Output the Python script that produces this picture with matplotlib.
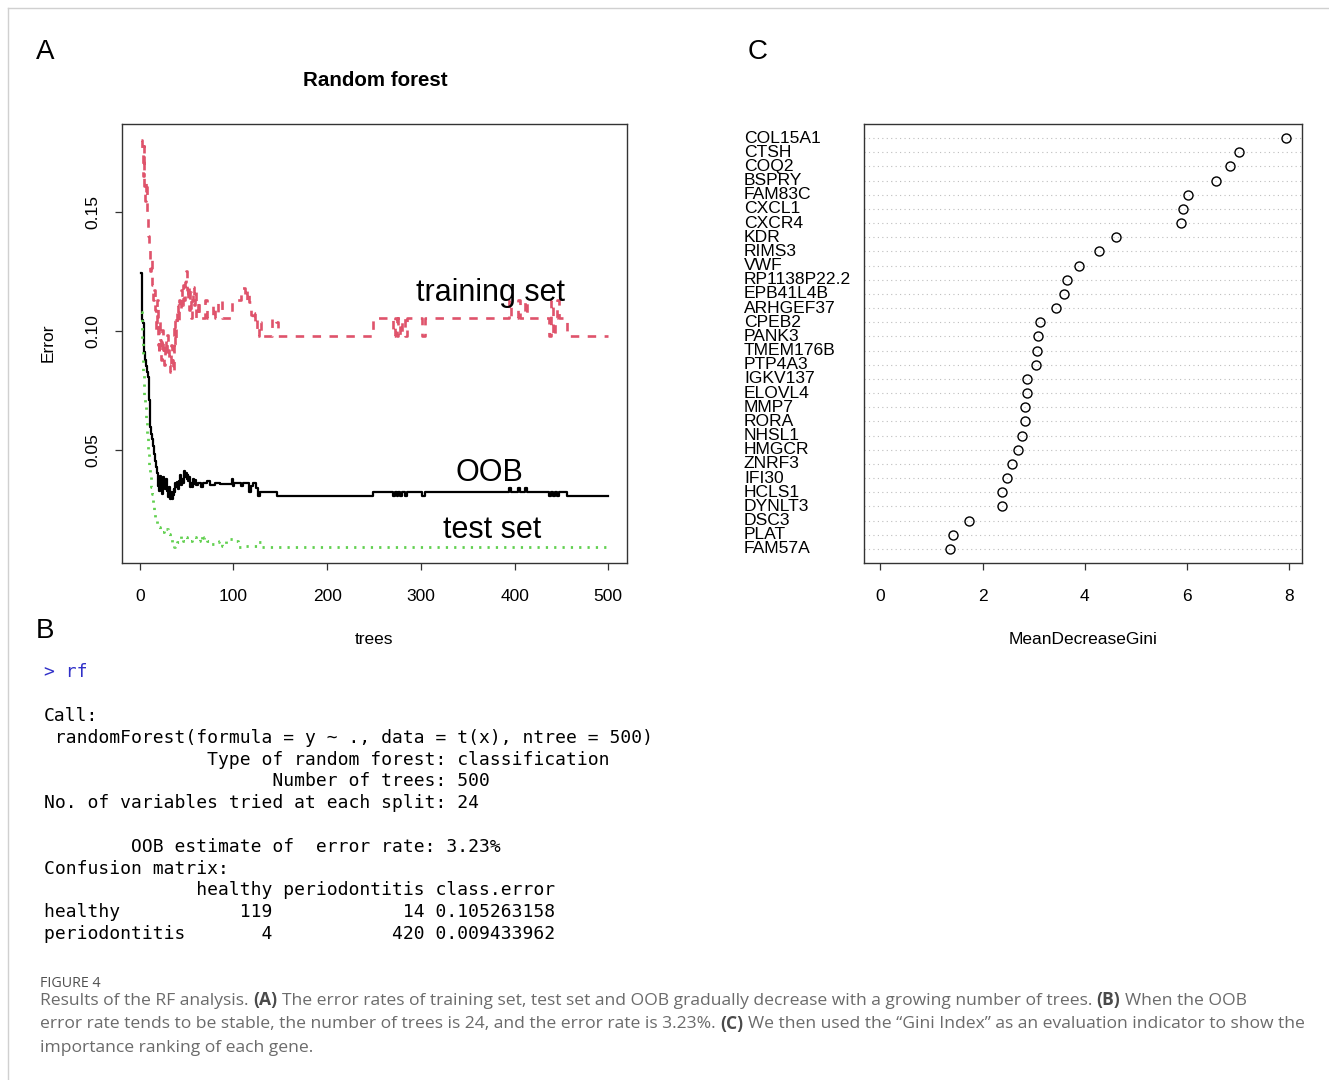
import matplotlib
matplotlib.use("Agg")
import matplotlib.pyplot as plt
from matplotlib.lines import Line2D
from matplotlib.transforms import blended_transform_factory

W, H = 1329, 1080

# =======================================
# Panel A: error rate vs number of trees (value holds until next tree listed)
# =======================================
n_trees = 500

oob_trees = list(range(1, 61)) + [62, 65, 68, 72, 75, 80, 86, 98, 100, 101, 108, 110, 117, 119,
                                  121, 124, 126, 128, 146, 249, 270, 272, 274, 276, 278, 280,
                                  283, 285, 301, 304, 394, 396, 404, 406, 411, 413, 437, 439,
                                  441, 443, 445, 447, 456]
oob_err = [0.1242, 0.1046, 0.1033, 0.0963, 0.0913, 0.0879, 0.0854, 0.0829, 0.0808, 0.0713,
           0.0600, 0.0567, 0.0546, 0.0517, 0.0483, 0.0454, 0.0429, 0.0404, 0.0350, 0.0379,
           0.0329, 0.0392, 0.0367, 0.0317, 0.0388, 0.0358, 0.0338, 0.0379, 0.0329, 0.0304,
           0.0346, 0.0296, 0.0325, 0.0296, 0.0313, 0.0338, 0.0325, 0.0363, 0.0346, 0.0367,
           0.0338, 0.0371, 0.0396, 0.0354, 0.0379, 0.0363, 0.0413, 0.0388, 0.0404, 0.0379,
           0.0396, 0.0371, 0.0388, 0.0346, 0.0363, 0.0346, 0.0379, 0.0358, 0.0375, 0.0354,
           0.0363, 0.0346, 0.0363, 0.0371, 0.0354, 0.0363, 0.0358, 0.0379, 0.0350, 0.0363,
           0.0350, 0.0363, 0.0325, 0.0350, 0.0363, 0.0342, 0.0308, 0.0325, 0.0308, 0.0325,
           0.0308, 0.0325, 0.0308, 0.0325, 0.0308, 0.0325, 0.0308, 0.0325, 0.0308, 0.0325,
           0.0342, 0.0325, 0.0342, 0.0325, 0.0342, 0.0325, 0.0308, 0.0325, 0.0308, 0.0325,
           0.0308, 0.0325, 0.0308]

train_trees = list(range(1, 61)) + [62, 63, 70, 72, 78, 80, 84, 88, 98, 108, 112, 114, 117, 119,
                                    121, 123, 125, 127, 129, 141, 145, 147, 249, 270, 272, 274,
                                    276, 278, 280, 283, 285, 301, 304, 394, 396, 404, 406, 411,
                                    413, 437, 439, 441, 443, 445, 447, 456]
train_err = [0.1800, 0.1754, 0.1650, 0.1775, 0.1608, 0.1546, 0.1629, 0.1483, 0.1400, 0.1338,
             0.1254, 0.1296, 0.1192, 0.1129, 0.1171, 0.1088, 0.1004, 0.1129, 0.0942, 0.0900,
             0.1046, 0.0963, 0.0879, 0.1004, 0.0921, 0.0858, 0.0963, 0.0900, 0.0983, 0.0921,
             0.0858, 0.0829, 0.0942, 0.0879, 0.0829, 0.0963, 0.1046, 0.0942, 0.1025, 0.1108,
             0.1046, 0.1129, 0.1088, 0.1171, 0.1108, 0.1192, 0.1129, 0.1204, 0.1254, 0.1171,
             0.1129, 0.1192, 0.1088, 0.1163, 0.1054, 0.1129, 0.1183, 0.1108, 0.1163, 0.1054,
             0.1129, 0.1054, 0.1129, 0.1054, 0.1108, 0.1054, 0.1129, 0.1054, 0.1129, 0.1179,
             0.1129, 0.1171, 0.1121, 0.1067, 0.1038, 0.1075, 0.0979, 0.1038, 0.0979, 0.1054,
             0.1038, 0.0979, 0.1054, 0.0979, 0.1054, 0.0979, 0.1054, 0.0979, 0.1054, 0.0979,
             0.1054, 0.0979, 0.1054, 0.1129, 0.1054, 0.1129, 0.1054, 0.1129, 0.1054, 0.0979,
             0.1129, 0.0979, 0.1054, 0.1129, 0.1054, 0.0979]

test_trees = list(range(1, 19)) + [20, 22, 24, 26, 28, 30, 32, 34, 36, 38, 40, 42, 44, 46, 48, 50,
                                   53, 56, 60, 64, 66, 69, 72, 76, 80, 85, 88, 92, 100, 105,
                                   112, 126, 130]
test_err = [0.1079, 0.0963, 0.0817, 0.0775, 0.0733, 0.0700, 0.0629, 0.0558, 0.0492, 0.0421,
            0.0388, 0.0346, 0.0317, 0.0275, 0.0242, 0.0221, 0.0204, 0.0192, 0.0179, 0.0163,
            0.0158, 0.0175, 0.0171, 0.0150, 0.0138, 0.0117, 0.0096, 0.0108, 0.0117, 0.0129,
            0.0142, 0.0121, 0.0138, 0.0129, 0.0121, 0.0138, 0.0121, 0.0142, 0.0121, 0.0138,
            0.0121, 0.0108, 0.0117, 0.0121, 0.0100, 0.0129, 0.0121, 0.0096, 0.0100, 0.0117,
            0.0096]

# =======================================
# Panel C: variable importance
# =======================================
genes = ["COL15A1", "CTSH", "COQ2", "BSPRY", "FAM83C", "CXCL1", "CXCR4", "KDR", "RIMS3", "VWF",
         "RP1138P22.2", "EPB41L4B", "ARHGEF37", "CPEB2", "PANK3", "TMEM176B", "PTP4A3",
         "IGKV137", "ELOVL4", "MMP7", "RORA", "NHSL1", "HMGCR", "ZNRF3", "IFI30", "HCLS1",
         "DYNLT3", "DSC3", "PLAT", "FAM57A"]
gini = [7.93, 7.02, 6.83, 6.56, 6.01, 5.93, 5.89, 4.62, 4.28, 3.88,
        3.65, 3.59, 3.44, 3.12, 3.09, 3.07, 3.05, 2.87, 2.87, 2.83,
        2.83, 2.78, 2.70, 2.58, 2.47, 2.38, 2.38, 1.74, 1.42, 1.36]

# =======================================
# Panel B: console output
# =======================================
console_prompt = "> rf"
console_lines = [
    "",
    "Call:",
    " randomForest(formula = y ~ ., data = t(x), ntree = 500) ",
    "               Type of random forest: classification",
    "                     Number of trees: 500",
    "No. of variables tried at each split: 24",
    "",
    "        OOB estimate of  error rate: 3.23%",
    "Confusion matrix:",
    "              healthy periodontitis class.error",
    "healthy           119            14 0.105263158",
    "periodontitis       4           420 0.009433962",
]

caption_title = "FIGURE 4"
caption_lines = [
    [("Results of the RF analysis.", "normal"), ("(A)", "bold"),
     ("The error rates of training set, test set and OOB gradually decrease with a growing number of trees.", "normal"),
     ("(B)", "bold"), ("When the OOB", "normal")],
    [("error rate tends to be stable, the number of trees is 24, and the error rate is 3.23%.", "normal"),
     ("(C)", "bold"),
     ("We then used the \u201cGini Index\u201d as an evaluation indicator to show the", "normal")],
    [("importance ranking of each gene.", "normal")],
]

RED = "#DF536B"
GREEN = "#61D04F"
SANS = "Liberation Sans"

plt.rcParams["font.family"] = [SANS, "DejaVu Sans"]

fig = plt.figure(figsize=(W / 100, H / 100), dpi=100)


def px(x, y):
    # pixel position (from top-left) -> figure fraction
    return x / W, 1 - y / H


def r_style(ax):
    for s in ax.spines.values():
        s.set_linewidth(1.0)
        s.set_color("#333333")
    ax.tick_params(direction="out", length=5, width=0.9, color="#333333",
                   labelsize=12.5, pad=10.5)
    ax.tick_params(axis="x", pad=14)


# ---------- A ----------
axA = fig.add_axes([122 / W, 1 - 563 / H, 505 / W, 439 / H])
axA.step(oob_trees + [n_trees], oob_err + [oob_err[-1]], where="post",
         color="black", lw=1.6)
axA.step(train_trees + [n_trees], train_err + [train_err[-1]], where="post",
         color=RED, lw=1.9, linestyle=(0, (3.2, 3.2)))
axA.step(test_trees + [n_trees], test_err + [test_err[-1]], where="post",
         color=GREEN, lw=2.0, linestyle=(0, (0.8, 2.2)))

all_err = oob_err + train_err + test_err
lo, hi = min(all_err), max(all_err)
axA.set_xlim(1 - 0.04 * (n_trees - 1), n_trees + 0.04 * (n_trees - 1))
axA.set_ylim(lo - 0.04 * (hi - lo), hi + 0.04 * (hi - lo))
axA.set_xticks([0, 100, 200, 300, 400, 500])
axA.set_yticks([0.05, 0.10, 0.15])
axA.set_yticklabels(["0.05", "0.10", "0.15"], rotation=90, va="center")
r_style(axA)

axA.text(374, 0.1158, "training set", fontsize=22, ha="center", va="center")
axA.text(373, 0.0404, "OOB", fontsize=22, ha="center", va="center")
axA.text(376, 0.0167, "test set", fontsize=22, ha="center", va="center")

fig.text(*px(375, 81), "Random forest", fontsize=14.8, weight="bold", ha="center", va="center")
fig.text(*px(374, 639), "trees", fontsize=12.5, ha="center", va="center")
fig.text(*px(48, 343), "Error", fontsize=12.5, rotation=90, ha="center", va="center")

# ---------- C ----------
axC = fig.add_axes([864 / W, 1 - 563 / H, 438 / W, 439 / H])
ypos = [len(genes) - i for i in range(len(genes))]
axC.plot(gini, ypos, linestyle="none", marker="o", ms=6.5, mfc="none", mec="black", mew=1.0)
axC.set_ylim(0, len(genes) + 1)
gmax = max(gini)
axC.set_xlim(-0.04 * gmax, gmax * 1.04)
axC.set_xticks([0, 2, 4, 6, 8])
axC.set_yticks(ypos)
axC.set_yticklabels([])
axC.grid(axis="y", color="#BEBEBE", lw=0.8, linestyle=(0, (1, 3)))
axC.set_axisbelow(True)
r_style(axC)
axC.tick_params(axis="y", length=0)

lab_tr = blended_transform_factory(fig.transFigure, axC.transData)
for g, y in zip(genes, ypos):
    axC.text(744 / W, y, g, transform=lab_tr, fontsize=12.6, ha="left", va="center",
             clip_on=False)

fig.text(*px(1083, 639), "MeanDecreaseGini", fontsize=12.5, ha="center", va="center")

# ---------- panel letters ----------
for letter, (lx, ly) in zip("ABC", [(45, 52), (45, 631), (758, 52)]):
    fig.text(*px(lx, ly), letter, fontsize=20, ha="center", va="center")

# ---------- B: console ----------
MONO = "DejaVu Sans Mono"
MONO_SIZE = 12.95
line_h = 21.8
y0 = 677.4
fig.text(*px(44, y0), console_prompt, family=MONO, fontsize=MONO_SIZE, color="#3030C8",
         va="baseline", ha="left")
for i, line in enumerate(console_lines, start=1):
    if line:
        fig.text(*px(44, y0 + i * line_h), line, family=MONO, fontsize=MONO_SIZE,
                 color="black", va="baseline", ha="left")

# ---------- caption ----------
CAP = "Open Sans"
CAP_SIZE = 12.6
renderer = fig.canvas.get_renderer()
fig.text(*px(40, 987), caption_title, family=CAP, fontsize=10.3, color="#505050",
         va="baseline", ha="left")

p1 = fig.text(0, 0, "a a", family=CAP, fontsize=CAP_SIZE)
p2 = fig.text(0, 0, "aa", family=CAP, fontsize=CAP_SIZE)
space_w = p1.get_window_extent(renderer).width - p2.get_window_extent(renderer).width
p1.remove()
p2.remove()

for k, parts in enumerate(caption_lines):
    x = 40
    y = 1005 + k * 23.5
    for text, weight in parts:
        t = fig.text(*px(x, y), text, family=CAP, fontsize=CAP_SIZE, weight=weight,
                     color="#4a4a4a" if weight == "bold" else "#6b6b6b",
                     va="baseline", ha="left")
        x += t.get_window_extent(renderer).width + space_w

# thin frame along top and left edge
fig.add_artist(Line2D([8 / W, 1], [1 - 8 / H, 1 - 8 / H], transform=fig.transFigure,
                      color="#D0D0D0", lw=1.0))
fig.add_artist(Line2D([8 / W, 8 / W], [1 - 8 / H, 0], transform=fig.transFigure,
                      color="#D0D0D0", lw=1.0))

fig.savefig("out.png", dpi=100)
